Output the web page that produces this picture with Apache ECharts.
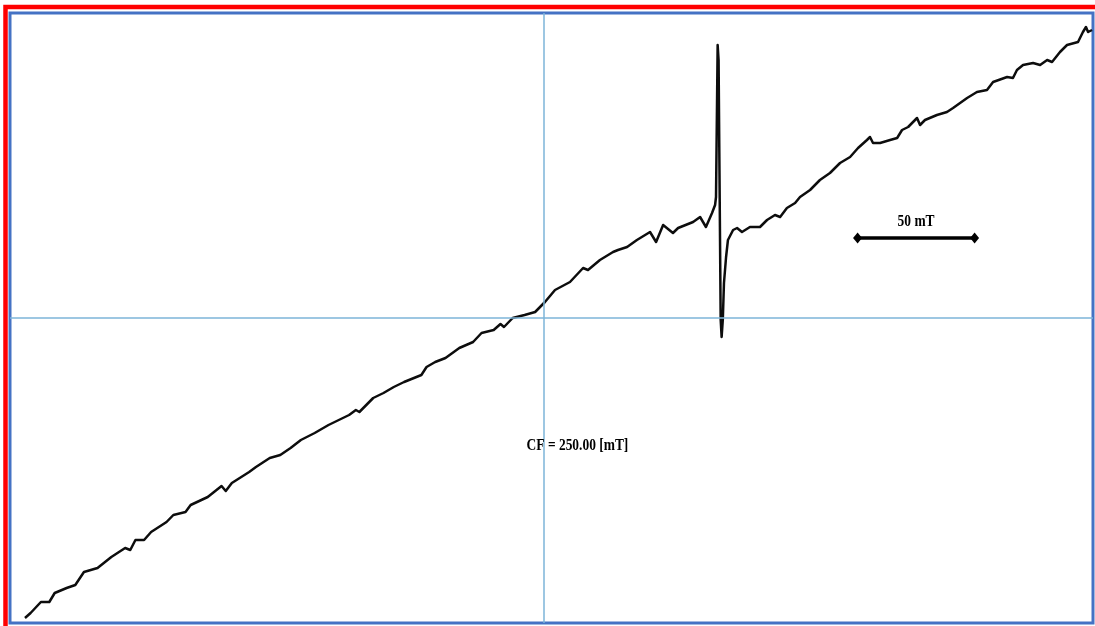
<!DOCTYPE html>
<html>
<head>
<meta charset="utf-8">
<script src="https://cdn.jsdelivr.net/npm/echarts@6/dist/echarts.min.js"></script>
<style>
  html, body { margin: 0; padding: 0; background: #ffffff; }
  #chart { width: 1095px; height: 626px; }
</style>
</head>
<body>
<div id="chart"></div>
<script>
// Magnetic field (mT) of each sample of the sweep
const field = [
  28.2, 30.6, 35.0, 38.6, 40.9, 46.0, 49.7, 53.4, 59.2, 65.1,
  71.0, 73.2, 75.4, 79.1, 82.1, 88.7, 91.6, 96.8, 99.0, 106.3,
  112.2, 114.0, 116.6, 124.0, 126.9, 132.8, 137.3, 141.7, 146.1, 152.0,
  157.9, 162.3, 166.7, 169.6, 171.1, 177.0, 181.4, 185.8, 190.2, 197.6,
  199.8, 203.5, 207.9, 213.8, 219.7, 223.3, 228.5, 231.4, 232.9, 236.6,
  241.7, 246.2, 250.4, 254.7, 261.1, 266.7, 268.8, 273.9, 279.5, 281.6,
  285.5, 289.7, 295.3, 297.9, 300.9, 305.1, 307.3, 313.7, 316.7, 319.2,
  321.8, 323.1, 323.5, 324.2, 324.6, 325.5, 325.9, 326.4, 326.9, 327.8,
  328.6, 330.8, 332.5, 334.6, 338.0, 342.3, 345.3, 348.7, 350.9, 353.8,
  357.3, 359.4, 363.7, 367.9, 372.2, 376.5, 380.8, 384.2, 388.0, 389.3,
  390.6, 393.6, 397.9, 400.9, 403.0, 405.6, 409.4, 410.7, 412.8, 417.9,
  422.2, 424.8, 427.8, 430.8, 435.0, 439.3, 441.9, 447.9, 450.4, 452.1,
  454.7, 459.0, 462.0, 465.0, 467.1, 470.5, 473.5, 478.2, 480.3, 481.6,
  482.5, 484.2
];

// ESR signal intensity (arbitrary units) at each field value
const signal = [
  -150, -147.5, -142, -142, -137.5, -135, -133.5, -127, -125, -119.5,
  -115, -116, -111, -111, -107, -102, -98.5, -97, -93.5, -89.5,
  -84, -86.5, -82.5, -77, -74.5, -70, -68.5, -65, -61, -57.5,
  -53.5, -51, -48.5, -46, -47, -40, -37.5, -34.5, -32, -28.5,
  -24.5, -22, -20, -15, -12, -7.5, -6, -3, -4.5, 0,
  1.5, 3, 8, 14, 18, 25, 24, 29, 33, 34,
  35.5, 39, 43, 38, 46.5, 42.5, 45, 48, 50.5, 45.5,
  52.5, 56.5, 60.5, 136.5, 129, -1, -9.5, -1, 17.5, 30.5,
  39, 44, 45, 43, 45.5, 45.5, 49, 51.5, 50.5, 55,
  57.5, 60.5, 64, 69, 72.5, 77.5, 80.5, 85, 89, 90.5,
  87.5, 87.5, 89, 90, 94, 95.5, 100, 96.5, 99, 101.5,
  103, 105, 107.5, 110, 113, 114, 118, 120.5, 120, 124,
  126.5, 127.5, 126.5, 129, 128, 133, 136.5, 138, 143, 145.5,
  143, 144
];

const centerField = 250;          // CF, mT
const scaleBarField = [384, 434]; // 50 mT span
const scaleBarLevel = 40;
const cfText = 'CF = 250.00 [mT]';
const scaleText = '50 mT';
const cfTextAt = [264.3, -64];
const scaleTextAt = [409, 48];

const fieldRange = [21.8, 484.6];
const signalRange = [-152.5, 152.5];

const chart = echarts.init(document.getElementById('chart'), null, { renderer: 'canvas' });

const spectrum = field.map((f, i) => [f, signal[i]]);
const bar = scaleBarField.map(f => [f, scaleBarLevel]);

chart.setOption({
  animation: false,
  backgroundColor: '#ffffff',
  grid: {
    left: 10, top: 13, width: 1083, height: 610,
    show: true, borderColor: '#4472C4', borderWidth: 3, backgroundColor: 'transparent'
  },
  xAxis: {
    type: 'value', min: fieldRange[0], max: fieldRange[1],
    axisLine: { show: false }, axisTick: { show: false },
    axisLabel: { show: false }, splitLine: { show: false }
  },
  yAxis: {
    type: 'value', min: signalRange[0], max: signalRange[1],
    axisLine: { show: false }, axisTick: { show: false },
    axisLabel: { show: false }, splitLine: { show: false }
  },
  series: [
    {
      // crosshair through the centre field and zero level
      type: 'line', data: [], z: 1, silent: true,
      markLine: {
        symbol: 'none', silent: true, label: { show: false },
        lineStyle: { color: '#7DB4D8', width: 1.5, type: 'solid' },
        data: [{ xAxis: centerField }, { yAxis: 0 }]
      }
    },
    {
      type: 'line', data: spectrum, z: 3,
      showSymbol: false, symbol: 'none', smooth: false,
      lineStyle: { color: '#0d0d0d', width: 2.5, join: 'round' }
    },
    {
      // 50 mT scale bar
      type: 'line', data: bar, z: 4,
      symbol: 'diamond', symbolSize: [9, 11], showSymbol: true,
      itemStyle: { color: '#000000' },
      lineStyle: { color: '#000000', width: 3.5 }
    }
  ]
});

const cfPos = chart.convertToPixel({ gridIndex: 0 }, cfTextAt);
const scalePos = chart.convertToPixel({ gridIndex: 0 }, scaleTextAt);

chart.setOption({
  graphic: [
    {
      type: 'rect', silent: true, z: 10,
      shape: { x: 5.5, y: 7, width: 1300, height: 800 },
      style: { fill: 'none', stroke: '#FF0000', lineWidth: 4.5 }
    },
    {
      type: 'text', x: cfPos[0], y: cfPos[1], scaleX: 0.84, z: 10,
      style: {
        text: cfText, font: 'bold 16px "Liberation Serif"', fill: '#000000',
        textAlign: 'center', textVerticalAlign: 'middle'
      }
    },
    {
      type: 'text', x: scalePos[0], y: scalePos[1], scaleX: 0.84, z: 10,
      style: {
        text: scaleText, font: 'bold 16px "Liberation Serif"', fill: '#000000',
        textAlign: 'center', textVerticalAlign: 'middle'
      }
    }
  ]
});
</script>
</body>
</html>
